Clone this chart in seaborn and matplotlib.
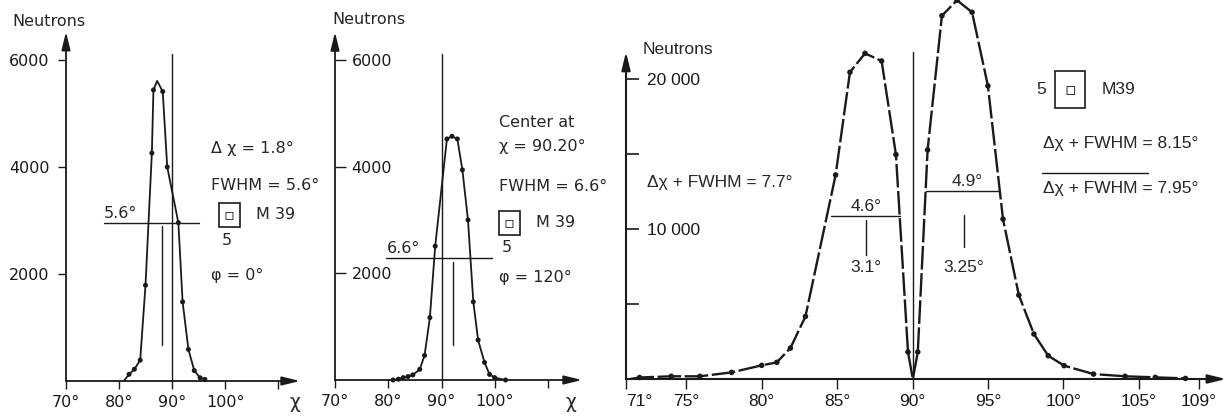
import matplotlib
matplotlib.use("Agg")
import matplotlib.pyplot as plt
import seaborn as sns
import pandas as pd
from matplotlib.lines import Line2D

# ---------------- data ----------------
# Panel A: phi = 0 deg
chi_a = [81.9, 82.9, 84.0, 85.0, 86.2, 86.5, 88.25, 89.1, 91.2, 92.0, 93.1, 94.2, 95.3, 96.2]
n_a = [125, 220, 390, 1790, 4260, 5440, 5410, 4000, 2960, 1480, 590, 195, 60, 30]
chi_a_curve = [80.9, 87.2]          # curve vertices without a measured dot
n_a_curve = [0, 5610]

# Panel B: phi = 120 deg
chi_b = [80.9, 81.9, 82.8, 83.7, 84.6, 85.9, 86.8, 87.8, 88.8, 91.0, 91.95, 92.95,
         93.9, 94.95, 95.95, 96.85, 98.05, 99.0, 99.95, 102.0]
n_b = [0, 15, 45, 65, 95, 200, 460, 1170, 2510, 4520, 4570, 4520,
       3940, 3000, 1465, 750, 330, 105, 45, 0]

# Panel C: M39, sample 5
chi_c = [71.9, 74.0, 75.9, 78.0, 80.0, 81.0, 81.9, 82.9, 84.9, 85.85, 86.85, 87.95, 88.9,
         89.7, 90.35, 91.0, 91.95, 92.95, 93.95, 95.0, 96.0, 97.05, 98.05, 99.0, 100.05,
         102.0, 104.1, 106.1, 108.1]
n_c = [100, 180, 180, 440, 910, 1110, 2060, 4170, 13600, 20450, 21710, 21200, 14960,
       1800, 1800, 15270, 24220, 25250, 24450, 19540, 10660, 5590, 3000, 1550, 890,
       330, 180, 110, 40]
chi_c_curve = [71.3, 90.02]
n_c_curve = [0, 0]

# ticks
yticks_ab = [2000, 4000, 6000]
xticks_ab = [70, 80, 90, 100, 110]
xticklabels_ab = ["70°", "80°", "90°", "100°", ""]
yticks_c = [5000, 10000, 15000, 20000]
yticklabels_c = ["", "10 000", "", "20 000"]
xticks_c = [71, 75, 80, 85, 90, 95, 100, 105, 109]
xticklabels_c = ["71°", "75°", "80°", "85°", "90°", "95°", "100°", "105°", "109°"]

# annotation values
a_center, a_center_top = 90, 6110
a_mean, a_mean_lo, a_mean_hi = 88.2, 670, 2900
a_half, a_half_lo, a_half_hi = 2960, 77.2, 95.1
b_center, b_center_top = 90, 6110
b_mean, b_mean_lo, b_mean_hi = 92.2, 655, 2210
b_half, b_half_lo, b_half_hi = 2290, 79.6, 99.5
c_center, c_center_top = 90, 21800
c1_half, c1_lo, c1_hi = 10870, 84.6, 89.17
c1_mean, c1_mean_lo, c1_mean_hi = 86.9, 8270, 10600
c2_half, c2_lo, c2_hi = 12550, 90.87, 95.73
c2_mean, c2_mean_lo, c2_mean_hi = 93.4, 8820, 10930

# ---------------- figure ----------------
sns.set_theme(style="white")
plt.rcParams['font.family'] = ['DejaVu Sans']
plt.rcParams['axes.facecolor'] = 'white'

W, H = 1230, 416
fig = plt.figure(figsize=(W / 100, H / 100), dpi=100)
fig.patch.set_facecolor('white')


def px_axes(l, r, t, b):
    return fig.add_axes([l / W, 1 - b / H, (r - l) / W, (b - t) / H])


def fx(px):
    return px / W


def fy(py):
    return 1 - py / H


def axis_arrows(ax, ytop, lw=1.3):
    kw = dict(arrowstyle='-|>,head_length=0.9,head_width=0.22', color='k', lw=lw,
              shrinkA=0, shrinkB=0)
    ax.annotate('', xy=(1.0, 0), xytext=(0, 0), xycoords='axes fraction', arrowprops=kw,
                annotation_clip=False)
    ax.annotate('', xy=(0, ytop), xytext=(0, 0), xycoords='axes fraction', arrowprops=kw,
                annotation_clip=False)


def clean(ax):
    for s in ax.spines.values():
        s.set_visible(False)
    ax.grid(False)
    ax.set_xlabel('')
    ax.set_ylabel('')
    leg = ax.get_legend()
    if leg:
        leg.remove()


def draw_curve(ax, chi, n, chi_extra, n_extra, lw, dashes=None, ms=13):
    df = pd.DataFrame({'chi': list(chi) + list(chi_extra), 'n': list(n) + list(n_extra)})
    df = df.sort_values('chi')
    sns.lineplot(data=df, x='chi', y='n', ax=ax, color='k', lw=lw, estimator=None,
                 sort=True, clip_on=False)
    if dashes is not None:
        ax.lines[-1].set_dashes(dashes)
    sns.scatterplot(x=chi, y=n, ax=ax, color='k', s=ms, edgecolor='none', clip_on=False,
                    zorder=5)


fs_a = 11.5

# ---------- Panel A ----------
axA = px_axes(66, 300, 30, 381)
draw_curve(axA, chi_a, n_a, chi_a_curve, n_a_curve, lw=1.3)
clean(axA)
axA.set_xlim(70, 70 + 234 / 5.3)
axA.set_ylim(0, 351 * 2000 / 107)
axA.set_xticks(xticks_ab)
axA.set_xticklabels(xticklabels_ab)
axA.set_yticks(yticks_ab)
axA.set_yticklabels([str(v) for v in yticks_ab])
axA.tick_params(axis='x', bottom=True, direction='out', length=6, width=1, pad=4,
                labelsize=fs_a, colors='k')
axA.tick_params(axis='y', left=True, direction='out', length=6, width=1, pad=6,
                labelsize=fs_a, colors='k')
axis_arrows(axA, 0.995)
axA.plot([a_center, a_center], [0, a_center_top], color='k', lw=1.0)
axA.plot([a_mean, a_mean], [a_mean_lo, a_mean_hi], color='k', lw=1.0)
axA.plot([a_half_lo, a_half_hi], [a_half, a_half], color='k', lw=1.0)
axA.text(a_half_lo, a_half + 40, "5.6°", ha='left', va='bottom', fontsize=fs_a)
axA.text(97.4, 4355, "Δ χ = 1.8°", ha='left', va='center', fontsize=fs_a)
axA.text(97.4, 3645, "FWHM = 5.6°", ha='left', va='center', fontsize=fs_a)
axA.text(99.8, 3103, "▫", ha='left', va='center', fontsize=fs_a, family='DejaVu Sans',
         bbox=dict(boxstyle='square,pad=0.3', fc='none', ec='k', lw=1.2))
axA.text(105.8, 3103, "M 39", ha='left', va='center', fontsize=fs_a)
axA.text(100.4, 2635, "5", ha='center', va='center', fontsize=fs_a)
axA.text(97.4, 1981, "φ = 0°", ha='left', va='center', fontsize=fs_a)
fig.text(fx(12), fy(21), "Neutrons", ha='left', va='center', fontsize=fs_a)
fig.text(fx(290), fy(402), "χ", ha='left', va='center', fontsize=fs_a + 2)

# ---------- Panel B ----------
axB = px_axes(335, 582, 30, 380)
draw_curve(axB, chi_b, n_b, [], [], lw=1.3)
clean(axB)
axB.set_xlim(70, 70 + 247 / 5.33)
axB.set_ylim(0, 350 * 18.75)
axB.set_xticks(xticks_ab)
axB.set_xticklabels(xticklabels_ab)
axB.set_yticks(yticks_ab)
axB.set_yticklabels([str(v) for v in yticks_ab])
axB.tick_params(axis='x', bottom=True, direction='out', length=6, width=1, pad=4,
                labelsize=fs_a, colors='k')
axB.tick_params(axis='y', left=True, direction='in', length=8, width=1, pad=-12,
                labelsize=fs_a, colors='k')
for lbl in axB.get_yticklabels():
    lbl.set_horizontalalignment('left')
axis_arrows(axB, 0.994)
axB.plot([b_center, b_center], [0, b_center_top], color='k', lw=1.0)
axB.plot([b_mean, b_mean], [b_mean_lo, b_mean_hi], color='k', lw=1.0)
axB.plot([b_half_lo, b_half_hi], [b_half, b_half], color='k', lw=1.0)
axB.text(b_half_lo + 0.2, b_half + 40, "6.6°", ha='left', va='bottom', fontsize=fs_a)
axB.text(100.7, 4837, "Center at", ha='left', va='center', fontsize=fs_a)
axB.text(100.7, 4369, "χ = 90.20°", ha='left', va='center', fontsize=fs_a)
axB.text(100.7, 3619, "FWHM = 6.6°", ha='left', va='center', fontsize=fs_a)
axB.text(101.7, 2944, "▫", ha='left', va='center', fontsize=fs_a, family='DejaVu Sans',
         bbox=dict(boxstyle='square,pad=0.3', fc='none', ec='k', lw=1.2))
axB.text(107.8, 2944, "M 39", ha='left', va='center', fontsize=fs_a)
axB.text(102.2, 2475, "5", ha='center', va='center', fontsize=fs_a)
axB.text(100.7, 1931, "φ = 120°", ha='left', va='center', fontsize=fs_a)
fig.text(fx(332), fy(20), "Neutrons", ha='left', va='center', fontsize=fs_a)
fig.text(fx(566), fy(402), "χ", ha='left', va='center', fontsize=fs_a + 2)

# ---------- Panel C ----------
fs_c = 12.5
fam_c = ['Liberation Sans', 'DejaVu Sans']
axC = px_axes(626, 1226, 0, 379)
draw_curve(axC, chi_c, n_c, chi_c_curve, n_c_curve, lw=1.7, dashes=(10, 1.5), ms=16)
clean(axC)
axC.set_xlim(71, 71 + 600 / 15.08)
axC.set_ylim(0, 379 * 5000 / 75)
axC.set_xticks(xticks_c)
axC.set_xticklabels(xticklabels_c, family=fam_c)
axC.set_yticks(yticks_c)
axC.set_yticklabels(yticklabels_c, family=fam_c)
axC.tick_params(axis='x', bottom=True, direction='out', length=7, width=1, pad=4,
                labelsize=fs_c, colors='k')
axC.tick_params(axis='y', left=True, direction='in', length=9, width=1.2, pad=-15,
                labelsize=fs_c, colors='k')
for lbl in axC.get_yticklabels():
    lbl.set_horizontalalignment('left')
axC.get_xticklabels()[0].set_horizontalalignment('left')
axis_arrows(axC, 0.863, lw=1.5)
axC.plot([c_center, c_center], [0, c_center_top], color='k', lw=1.0)
axC.plot([c1_lo, c1_hi], [c1_half, c1_half], color='k', lw=1.0)
axC.plot([c1_mean, c1_mean], [c1_mean_lo, c1_mean_hi], color='k', lw=1.0)
axC.plot([c2_lo, c2_hi], [c2_half, c2_half], color='k', lw=1.0)
axC.plot([c2_mean, c2_mean], [c2_mean_lo, c2_mean_hi], color='k', lw=1.0)
axC.text(c1_mean, c1_half + 150, "4.6°", ha='center', va='bottom', fontsize=fs_c, family=fam_c)
axC.text(c1_mean, 7400, "3.1°", ha='center', va='center', fontsize=fs_c, family=fam_c)
axC.text(93.6, c2_half + 150, "4.9°", ha='center', va='bottom', fontsize=fs_c, family=fam_c)
axC.text(c2_mean, 7400, "3.25°", ha='center', va='center', fontsize=fs_c, family=fam_c)
axC.text(72.4, 13090, "Δχ + FWHM = 7.7°", ha='left', va='center', fontsize=fs_c, family=fam_c)
axC.text(98.2, 19270, "5", ha='left', va='center', fontsize=fs_c, family=fam_c)
axC.text(100.05, 19270, "▫", ha='left', va='center', fontsize=fs_c, family='DejaVu Sans',
         bbox=dict(boxstyle='square,pad=0.55', fc='none', ec='k', lw=1.2))
axC.text(102.55, 19270, "M39", ha='left', va='center', fontsize=fs_c, family=fam_c)
axC.text(98.65, 15730, "Δχ + FWHM = 8.15°", ha='left', va='center', fontsize=fs_c, family=fam_c)
axC.text(98.65, 12670, "Δχ + FWHM = 7.95°", ha='left', va='center', fontsize=fs_c, family=fam_c)
fig.add_artist(Line2D([fx(1042), fx(1148)], [fy(173), fy(173)], color='k', lw=1.0))
fig.text(fx(643), fy(50), "Neutrons", ha='left', va='center', fontsize=fs_c, family=fam_c)

fig.savefig("out.png", dpi=100, facecolor='white')
